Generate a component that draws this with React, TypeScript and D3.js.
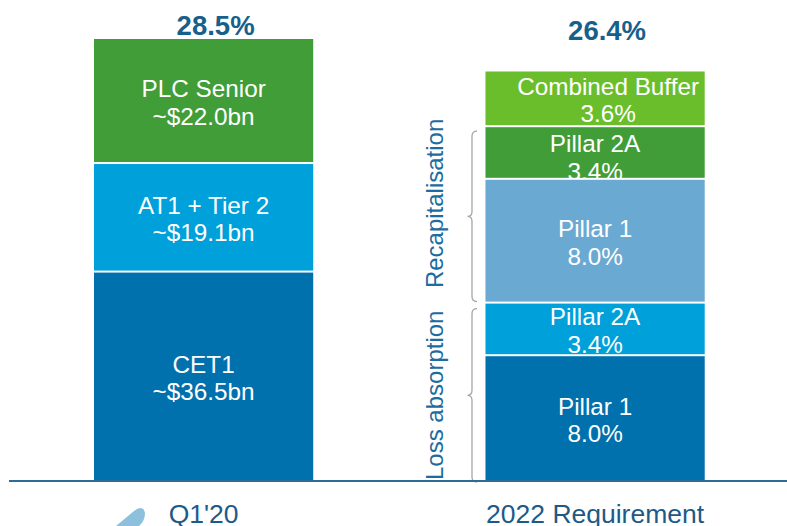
import React from "react";
import * as d3 from "d3";

const categories = ["Q1'20", "2022 Requirement"];
const totals = [28.5, 26.4];
const totalLabels = ["28.5%", "26.4%"];

// Q1'20 stack (bottom to top), values in $bn
const q1Names = ["CET1", "AT1 + Tier 2", "PLC Senior"];
const q1Values = [36.5, 19.1, 22.0];
const q1ValueLabels = ["~$36.5bn", "~$19.1bn", "~$22.0bn"];
const q1Colors = ["#0071ad", "#00a0da", "#419d37"];

// 2022 Requirement stack (bottom to top), values in %
const reqNames = ["Pillar 1", "Pillar 2A", "Pillar 1", "Pillar 2A", "Combined Buffer"];
const reqValues = [8.0, 3.4, 8.0, 3.4, 3.6];
const reqValueLabels = ["8.0%", "3.4%", "8.0%", "3.4%", "3.6%"];
const reqColors = ["#0071ad", "#00a0da", "#6aa9d2", "#419d37", "#6bbe2b"];

const groupNames = ["Loss absorption", "Recapitalisation"];
const groupFrom = [0, 2];
const groupTo = [1, 3];

const W = 787;
const H = 526;
const FONT = "'Liberation Sans', Arial, Helvetica, sans-serif";

export default function App() {
  const x = d3
    .scaleBand<string>()
    .domain(categories)
    .range([15.7, 783])
    .paddingInner(0.44)
    .paddingOuter(0.2);
  const y = d3.scaleLinear().domain([0, 28.5]).range([480, 39]);

  // Convert Q1 $bn to % share of total
  const q1Sum = d3.sum(q1Values);
  const q1Pct = q1Values.map((v) => (v / q1Sum) * totals[0]);

  type Seg = { name: string; label: string; color: string; y0: number; y1: number; i: number };
  const buildStack = (names: string[], vals: number[], labels: string[], colors: string[]): Seg[] => {
    let acc = 0;
    return names.map((n, i) => {
      const s = { name: n, label: labels[i], color: colors[i], y0: acc, y1: acc + vals[i], i };
      acc += vals[i];
      return s;
    });
  };
  const stacks = [
    buildStack(q1Names, q1Pct, q1ValueLabels, q1Colors),
    buildStack(reqNames, reqValues, reqValueLabels, reqColors),
  ];
  const reqStack = stacks[1];

  const bw = x.bandwidth();
  const gap = 2;
  const lineH = 27.5;

  const bracePath = (top: number, bottom: number) => {
    const xe = 477;
    const xl = 472;
    const xt = 467.5;
    const r = 5;
    const m = (top + bottom) / 2;
    return `M${xe},${top} Q${xl},${top} ${xl},${top + r} L${xl},${m - r} Q${xl},${m} ${xt},${m} Q${xl},${m} ${xl},${m + r} L${xl},${bottom - r} Q${xl},${bottom} ${xe},${bottom}`;
  };

  return (
    <svg
      width={W}
      height={H}
      style={{ position: "absolute", left: 0, top: 0, background: "#fff" }}
      fontFamily={FONT}
    >
      <rect x={0} y={0} width={W} height={H} fill="#fff" />
      {categories.map((c, ci) => {
        const x0 = x(c)!;
        const cx = x0 + bw / 2;
        // draw top-down so lower segments overlay overflowing labels above
        const segs = [...stacks[ci]].reverse();
        return (
          <g key={c}>
            {segs.map((s) => {
              const top = y(s.y1);
              const bottom = y(s.y0);
              const h = bottom - top - (s.y0 > 0 ? gap : 0);
              const mid = (top + top + h) / 2;
              const dx = s.name === "Combined Buffer" ? 13 : 0;
              const dy = ci === 1 && s.i === 3 ? 3 : 0;
              return (
                <g key={s.i}>
                  <rect x={x0} y={top} width={bw} height={h} fill={s.color} />
                  <text
                    x={cx + dx}
                    y={mid - 3.5 + dy}
                    textAnchor="middle"
                    fill="#fff"
                    fontSize={24.3}
                  >
                    {s.name}
                  </text>
                  <text
                    x={cx + dx}
                    y={mid - 3.5 + dy + lineH}
                    textAnchor="middle"
                    fill="#fff"
                    fontSize={24.3}
                  >
                    {s.label}
                  </text>
                </g>
              );
            })}
            <text
              x={cx + 12}
              y={y(totals[0]) - 4 + ci * 5}
              textAnchor="middle"
              fill="#16608b"
              fontSize={27.5}
              fontWeight="bold"
            >
              {totalLabels[ci]}
            </text>
            <text x={cx} y={522.5} textAnchor="middle" fill="#1d5a87" fontSize={26.5}>
              {c}
            </text>
          </g>
        );
      })}

      {groupNames.map((g, gi) => {
        const top = y(reqStack[groupTo[gi]].y1) + (gi === 1 ? 4 : 5);
        const bottom = y(reqStack[groupFrom[gi]].y0) + (gi === 1 ? -2 : 2);
        const mid = (top + bottom) / 2 + (gi === 1 ? -13 : 0);
        return (
          <g key={g}>
            <path d={bracePath(top, bottom)} fill="none" stroke="#a6a6a6" strokeWidth={1.3} />
            <text
              transform={`translate(442.5,${mid}) rotate(-90)`}
              textAnchor="middle"
              fill="#1d6c9f"
              fontSize={24}
            >
              {g}
            </text>
          </g>
        );
      })}

      <line x1={9} x2={W} y1={481} y2={481} stroke="#2c6c96" strokeWidth={2} />

      <path d="M116,526 L134,511 Q143,504 145,513 Q145,521 139,526 Z" fill="#8cc0dc" />
    </svg>
  );
}
